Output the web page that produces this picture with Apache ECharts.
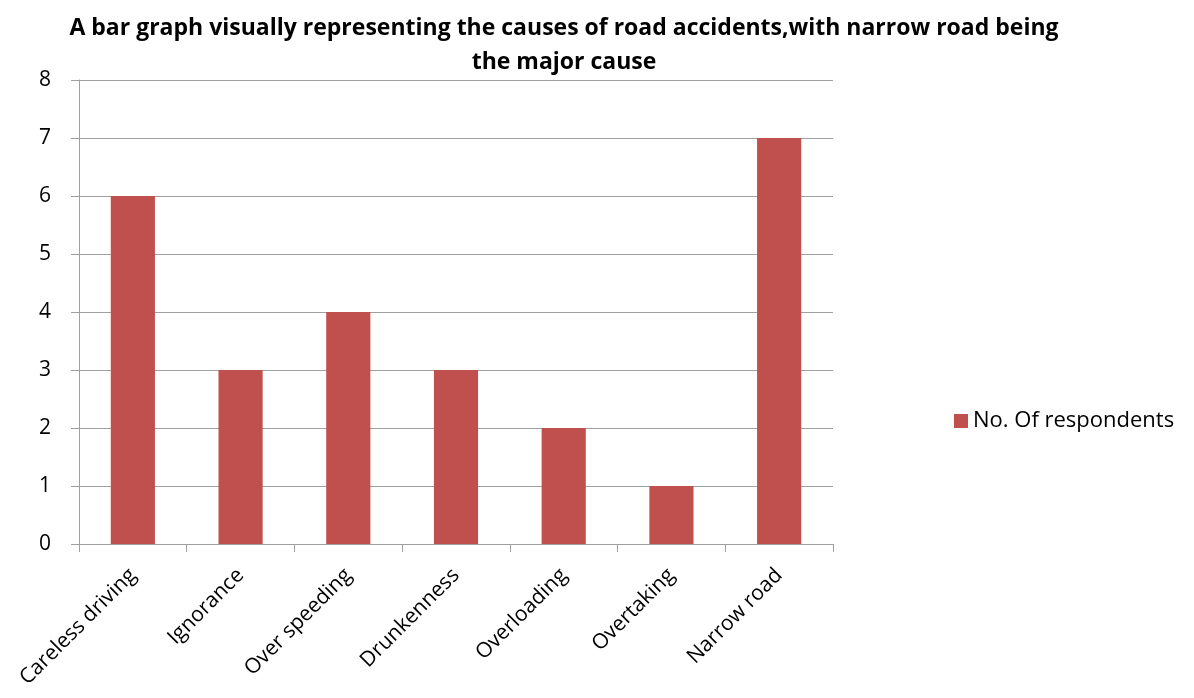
<!DOCTYPE html>
<html>
<head>
<meta charset="utf-8">
<title>Causes of road accidents</title>
<script src="https://cdn.jsdelivr.net/npm/echarts@6/dist/echarts.min.js"></script>
<style>
    html, body { margin: 0; padding: 0; background: #fff; }
    #main { width: 1194px; height: 698px; }
</style>
</head>
<body>
<div id="main"></div>
<script>
// data
var causes = ['Careless driving', 'Ignorance', 'Over speeding', 'Drunkenness', 'Overloading', 'Overtaking', 'Narrow road'];
var respondents = [6, 3, 4, 3, 2, 1, 7];
var seriesName = 'No. Of respondents';

var chart = echarts.init(document.getElementById('main'));
var font = '"Open Sans", "Liberation Sans", sans-serif';
var axisGray = '#a0a0a0';

var option = {
    animation: false,
    title: {
        text: 'A bar graph visually representing the causes of road accidents,with narrow road being\nthe major cause',
        left: 559,
        top: 6,
        textAlign: 'center',
        textStyle: {
            fontFamily: font,
            fontSize: 23,
            fontWeight: 'bold',
            color: '#000',
            lineHeight: 34
        }
    },
    legend: {
        data: [seriesName],
        left: 949,
        top: 405,
        itemWidth: 14,
        itemHeight: 14,
        itemGap: 8,
        icon: 'rect',
        textStyle: { fontFamily: font, fontSize: 22, color: '#000' }
    },
    grid: {
        left: 79,
        top: 80,
        width: 754,
        height: 464,
        containLabel: false
    },
    xAxis: {
        type: 'category',
        data: causes,
        axisLine: { lineStyle: { color: axisGray, width: 1 } },
        axisTick: { show: true, length: 8, lineStyle: { color: axisGray } },
        axisLabel: {
            rotate: 45,
            interval: 0,
            margin: 28,
            fontFamily: font,
            fontSize: 21,
            color: '#000'
        }
    },
    yAxis: {
        type: 'value',
        min: 0,
        max: 8,
        interval: 1,
        axisLine: { show: true, lineStyle: { color: axisGray, width: 1 } },
        axisTick: { show: true, length: 8, lineStyle: { color: axisGray } },
        splitLine: { lineStyle: { color: axisGray, width: 1 } },
        axisLabel: {
            margin: 28,
            fontFamily: font,
            fontSize: 21,
            color: '#000'
        }
    },
    series: [{
        name: seriesName,
        type: 'bar',
        data: respondents,
        barWidth: '41%',
        itemStyle: { color: '#c0504d' }
    }]
};
chart.setOption(option);
</script>
</body>
</html>
